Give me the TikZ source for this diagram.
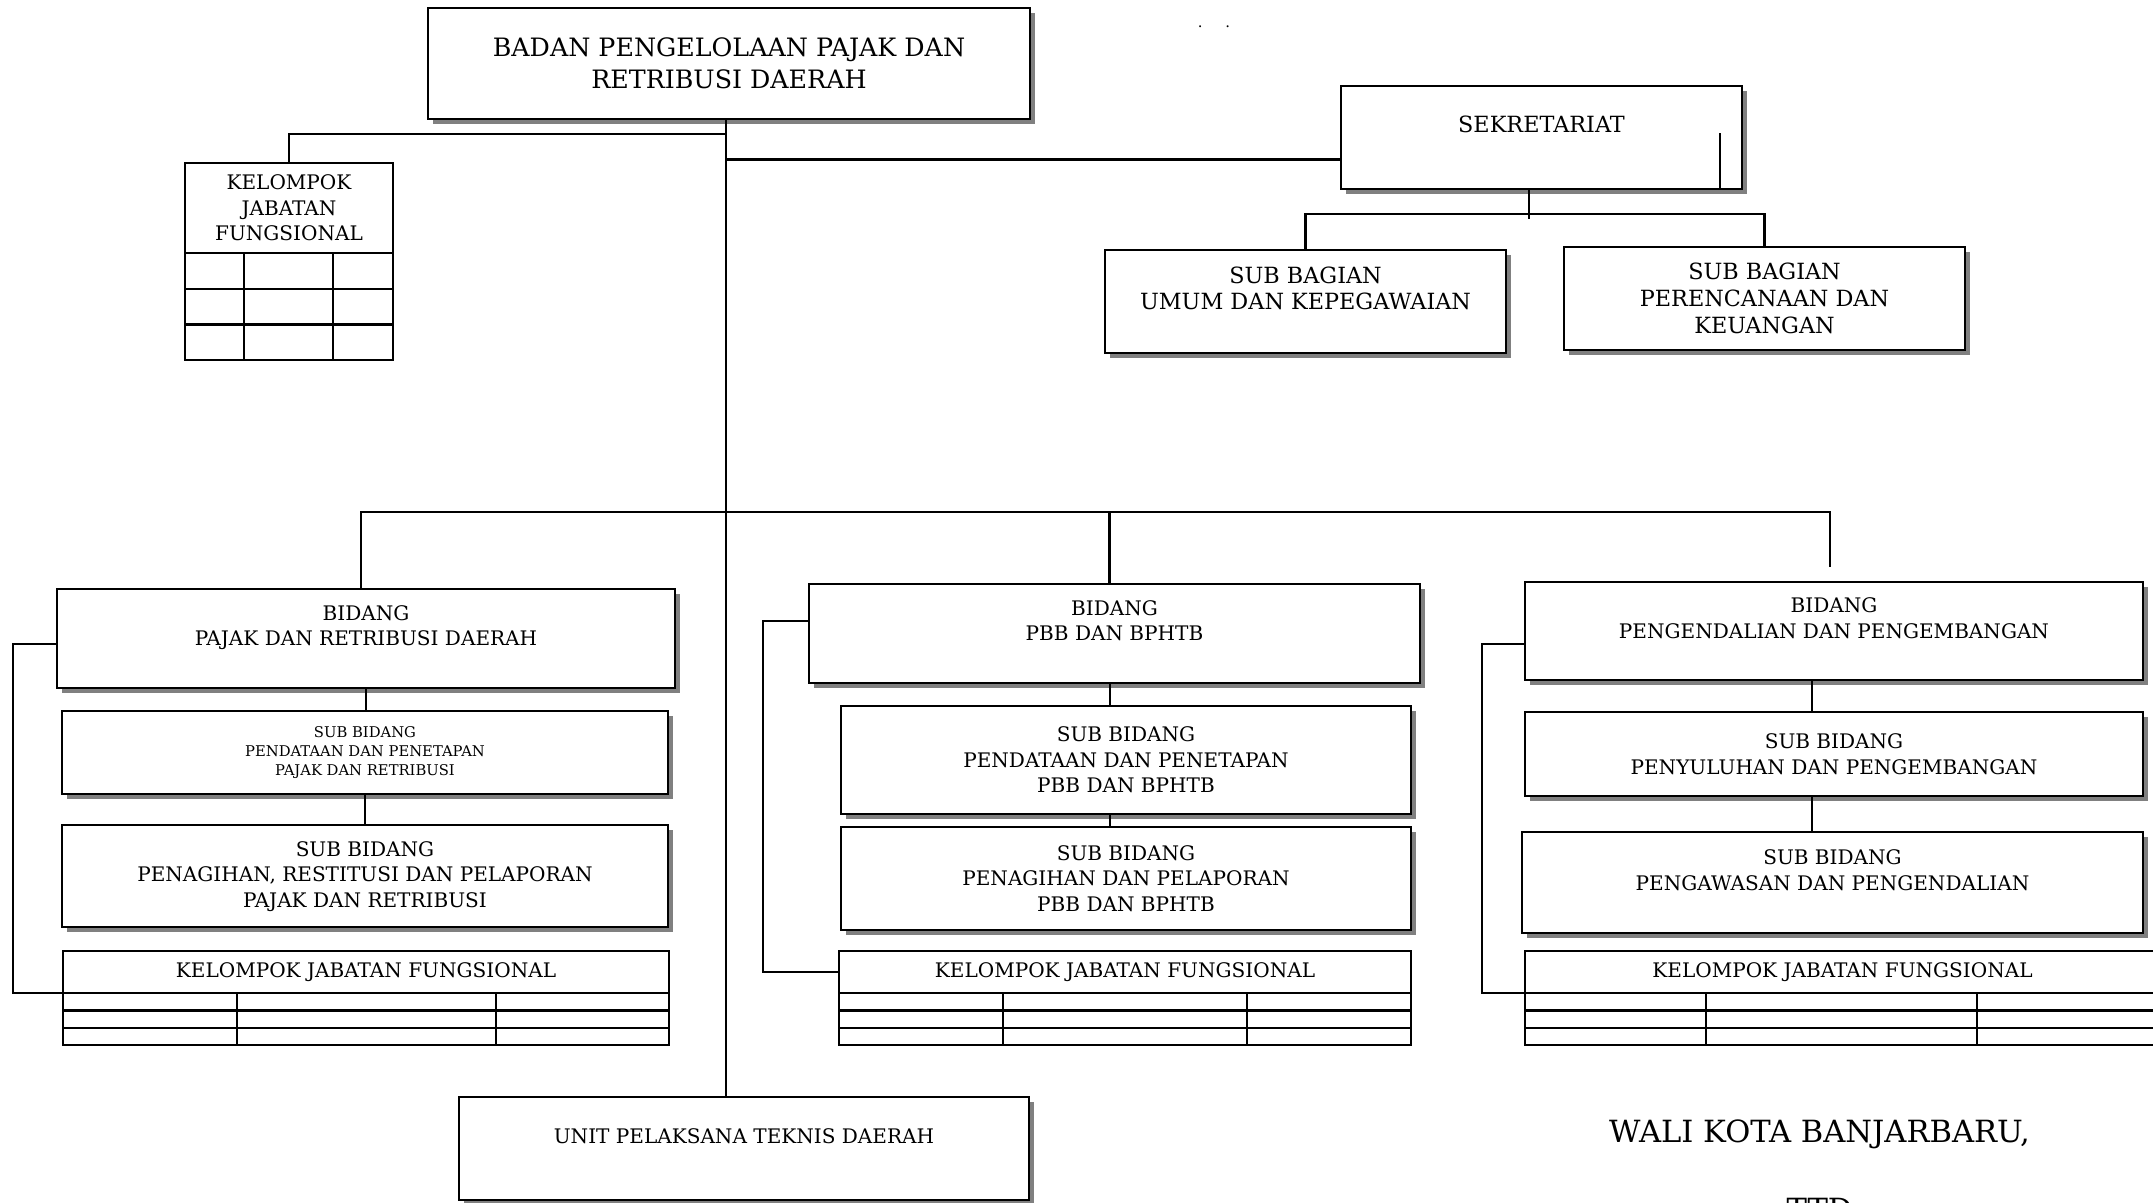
\documentclass[tikz,border=0pt]{standalone}
\usepackage{fontspec}
\setmainfont{DejaVu Serif}
\usetikzlibrary{positioning,shadows}

\newcommand{\kabanfont}{\fontsize{7.2pt}{9pt}\selectfont}
\newcommand{\sekrfont}{\fontsize{6.35pt}{7.6pt}\selectfont}
\newcommand{\bidfont}{\fontsize{5.7pt}{7.25pt}\selectfont}
\newcommand{\kecilfont}{\fontsize{4.2pt}{5.3pt}\selectfont}
\newcommand{\ttdfont}{\fontsize{8.7pt}{10pt}\selectfont}

\tikzset{%
  % boxes
  unit/.style={draw, line width=0.7pt, fill=white, align=center, inner sep=2pt, outer sep=0pt,
    drop shadow={shadow xshift=0.5mm, shadow yshift=-0.5mm, fill=black!50, opacity=1}},
  headbox/.style={unit, font=\kabanfont},
  sekbox/.style={unit, font=\sekrfont},
  bidbox/.style={unit, font=\bidfont},
  tinybox/.style={unit, font=\kecilfont},
  kjfbox/.style={draw, line width=0.7pt, align=center, inner sep=1pt, outer sep=0pt, font=\bidfont},
  % lines
  link/.style={line width=0.6pt},
  cell/.style={line width=0.7pt},
  sign/.style={font=\ttdfont, inner sep=0pt},
}

\newcommand{\kjfgrid}[4]{%
  % #1 = title node
  % #2 = first column
  % #3 = second column
  % #4 = row height
  \draw[cell] (#1.south west) rectangle ([yshift=-3*#4]#1.south east);
  \foreach \r in {1,2}
    \draw[cell] ([yshift=-\r*#4]#1.south west) -- ([yshift=-\r*#4]#1.south east);
  \draw[cell] ([xshift=#2]#1.south west) -- ++(0,-3*#4);
  \draw[cell] ([xshift=#3]#1.south west) -- ++(0,-3*#4);
}

\begin{document}
\begin{tikzpicture}[x=0.01cm, y=-0.01cm]
  \useasboundingbox (0,0) rectangle (2153,1202);

  % Kepala badan
  \node[headbox, minimum width=60.2mm, minimum height=11.1mm] (kaban) at (729,63.5)
    {BADAN PENGELOLAAN PAJAK DAN\\RETRIBUSI DAERAH};
  \node[font=\kecilfont, inner sep=0pt] (dots) at (1214,27) {.\hspace{6.5pt}.};
  \coordinate (trunk) at ([xshift=-0.3mm]kaban.south);

  % Sekretariat
  \node[sekbox, minimum width=40.1mm, minimum height=10.3mm] (sekret) at (1541.5,137.5) {SEKRETARIAT\\~};
  \node[sekbox, minimum width=40.1mm, minimum height=10.3mm] (subum) at (1305.5,301.5) {SUB BAGIAN\\UMUM DAN KEPEGAWAIAN\\~};
  \node[sekbox, minimum width=40.1mm, minimum height=10.3mm] (subren) at (1764.5,298.5) {SUB BAGIAN\\PERENCANAAN DAN\\KEUANGAN};

  % Kelompok jabatan fungsional
  \node[kjfbox, minimum width=20.8mm, minimum height=9mm] (kjf0) at (289,208) {KELOMPOK\\JABATAN\\FUNGSIONAL};
  \kjfgrid{kjf0}{5.9mm}{14.8mm}{3.57mm}

  % Bidang pajak dan retribusi
  \node[bidbox, minimum width=61.8mm, minimum height=9.9mm] (bid1) at (366,638.5) {BIDANG\\PAJAK DAN RETRIBUSI DAERAH\\~};
  \node[tinybox, below=2.3mm of bid1, xshift=-0.1mm, minimum width=60.6mm, minimum height=8.3mm] (sb1a)
    {SUB BIDANG\\PENDATAAN DAN PENETAPAN\\PAJAK DAN RETRIBUSI};
  \node[bidbox, below=3.1mm of sb1a, minimum width=60.6mm, minimum height=10.2mm] (sb1b)
    {SUB BIDANG\\PENAGIHAN, RESTITUSI DAN PELAPORAN\\PAJAK DAN RETRIBUSI};
  \node[kjfbox, below=2.4mm of sb1b, xshift=0.1mm, minimum width=60.6mm, minimum height=4.2mm] (kjf1) {KELOMPOK JABATAN FUNGSIONAL};
  \kjfgrid{kjf1}{17.4mm}{43.3mm}{1.73mm}

  % Bidang PBB dan BPHTB
  \node[bidbox, minimum width=61.1mm, minimum height=9.9mm] (bid2) at (1114.5,633.5) {BIDANG\\PBB DAN BPHTB\\~};
  \node[bidbox, below=2.3mm of bid2, xshift=1.15mm, minimum width=57mm, minimum height=10.8mm] (sb2a)
    {SUB BIDANG\\PENDATAAN DAN PENETAPAN\\PBB DAN BPHTB};
  \node[bidbox, below=1.3mm of sb2a, minimum width=57mm, minimum height=10.3mm] (sb2b)
    {SUB BIDANG\\PENAGIHAN DAN PELAPORAN\\PBB DAN BPHTB};
  \node[kjfbox, below=2.1mm of sb2b, xshift=-0.1mm, minimum width=57.2mm, minimum height=4.2mm] (kjf2) {KELOMPOK JABATAN FUNGSIONAL};
  \kjfgrid{kjf2}{16.4mm}{40.8mm}{1.73mm}

  % Bidang pengendalian dan pengembangan
  \node[bidbox, minimum width=61.8mm, minimum height=9.8mm] (bid3) at (1834,631) {BIDANG\\PENGENDALIAN DAN PENGEMBANGAN\\~};
  \node[bidbox, below=3.2mm of bid3, minimum width=61.8mm, minimum height=8.4mm] (sb3a)
    {SUB BIDANG\\PENYULUHAN DAN PENGEMBANGAN};
  \node[bidbox, below=3.6mm of sb3a, xshift=-0.15mm, minimum width=62.1mm, minimum height=10.1mm] (sb3b)
    {SUB BIDANG\\PENGAWASAN DAN PENGENDALIAN\\~};
  \node[kjfbox, below=1.8mm of sb3b, xshift=1mm, minimum width=63.5mm, minimum height=4.2mm] (kjf3) {KELOMPOK JABATAN FUNGSIONAL};
  \kjfgrid{kjf3}{18.1mm}{45.2mm}{1.73mm}

  % UPTD
  \node[bidbox, minimum width=57mm, minimum height=10.3mm] (uptd) at (744,1148.5) {UNIT PELAKSANA TEKNIS DAERAH\\~};

  % Tanda tangan
  \node[sign] (wali) at (1819.5,1134) {WALI KOTA BANJARBARU,};
  \node[sign, below=4.8mm of wali] (ttd) {TTD};

  % Links
  \draw[link] (trunk) -- (trunk |- uptd.north);
  \draw[link] (kjf0.north) |- ([yshift=-1.5mm]trunk);
  \draw[link] ([yshift=-2.2mm]sekret.west) -- ([yshift=-2.2mm]sekret.west -| trunk);
  \draw[link] ([xshift=-2.2mm]sekret.south east) -- ++(0,5.6mm);
  \draw[link] ([xshift=-1.25mm]sekret.south) -- ++(0,-3mm);
  \draw[link] (subum.north) -- ++(0,3.6mm) -| (subren.north);

  \draw[link] ([xshift=-0.5mm]bid1.north) |- ([xshift=-0.4mm, yshift=7mm]bid3.north) -- ++(0,-5.5mm);
  \draw[link] ([xshift=-0.5mm]bid2.north) -- ++(0,7.2mm);

  \draw[link] (bid1.south) -- (bid1.south |- sb1a.north);
  \draw[link] (sb1a.south) -- (sb1b.north);
  \draw[link] ([yshift=-0.55mm]bid1.west) -- ++(-4.4mm,0) |- (kjf1.south west);

  \draw[link] ([xshift=-0.45mm]bid2.south) -- ([xshift=-0.45mm]bid2.south |- sb2a.north);
  \draw[link] ([xshift=-0.45mm]bid2.south |- sb2a.south) -- ([xshift=-0.45mm]bid2.south |- sb2b.north);
  \draw[link] ([yshift=1.25mm]bid2.west) -- ++(-4.6mm,0) |- (kjf2.west);

  \draw[link] ([xshift=-2.2mm]bid3.south) -- ([xshift=-2.2mm]bid3.south |- sb3a.north);
  \draw[link] ([xshift=-2.2mm]bid3.south |- sb3a.south) -- ([xshift=-2.2mm]bid3.south |- sb3b.north);
  \draw[link] ([yshift=-1.3mm]bid3.west) -- ++(-4.3mm,0) |- (kjf3.south west);
\end{tikzpicture}
\end{document}
